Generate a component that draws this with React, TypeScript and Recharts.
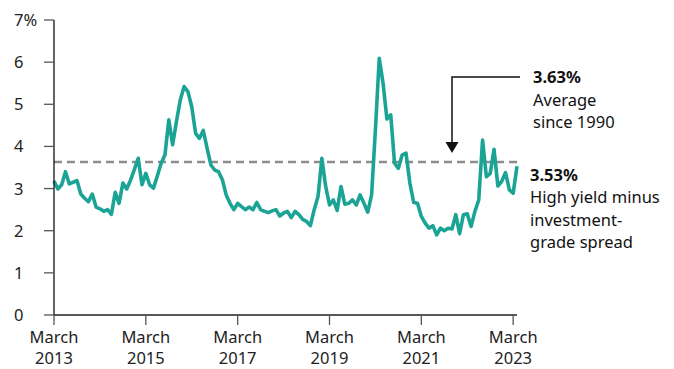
import { LineChart, Line, XAxis, YAxis, ReferenceLine } from "recharts"

// Monthly spread, March 2013 through April 2023 (percent)
const spread = [
  3.18, 2.99, 3.09, 3.4, 3.11, 3.15, 3.19, 2.87, 2.77, 2.69,
  2.87, 2.56, 2.52, 2.46, 2.5, 2.39, 2.91, 2.65, 3.13, 2.99,
  3.2, 3.45, 3.72, 3.09, 3.36, 3.09, 3.01, 3.3, 3.6, 3.8,
  4.63, 4.04, 4.59, 5.1, 5.42, 5.3, 4.94, 4.31, 4.19, 4.38,
  3.96, 3.56, 3.44, 3.4, 3.21, 2.85, 2.65, 2.5, 2.65, 2.57,
  2.5, 2.56, 2.5, 2.67, 2.5, 2.46, 2.43, 2.47, 2.5, 2.35,
  2.42, 2.46, 2.31, 2.46, 2.38, 2.27, 2.22, 2.12, 2.5, 2.81,
  3.72, 3.05, 2.61, 2.73, 2.48, 3.05, 2.63, 2.65, 2.73, 2.61,
  2.85, 2.65, 2.44, 2.85, 4.4, 6.09, 5.5, 4.65, 4.75, 3.6,
  3.48, 3.8, 3.84, 3.13, 2.67, 2.65, 2.34, 2.18, 2.06, 2.12,
  1.9, 2.06, 2.0, 2.06, 2.04, 2.38, 1.93, 2.38, 2.4, 2.1,
  2.46, 2.73, 4.15, 3.28, 3.36, 3.93, 3.06, 3.17, 3.38, 2.97,
  2.89, 3.53,
]

const startYear = 2013
const xTicks = [0, 24, 48, 72, 96, 120]
const yTicks = [0, 1, 2, 3, 4, 5, 6, 7]
const average = 3.63
const latest = spread[spread.length - 1]

const data = spread.map((value, month) => ({ month, value }))

const FONT = "'Noto Sans', 'Open Sans', sans-serif"
const TEAL = "#1ba496"

const YTick = ({ x, y, payload }: any) => (
  <text x={x - 30} y={y} dy={6} textAnchor="start" fontSize={16.5} fill="#222" fontFamily={FONT}>
    {payload.value === 7 ? "7%" : payload.value}
  </text>
)

const XTick = ({ x, y, payload }: any) => (
  <text x={x} y={y} textAnchor="middle" fontSize={16.5} fill="#222" fontFamily={FONT}>
    <tspan x={x} dy={18}>March</tspan>
    <tspan x={x} dy={21}>{startYear + payload.value / 12}</tspan>
  </text>
)

export default function App() {
  return (
    <div style={{ position: "absolute", left: 0, top: 0, width: 674, height: 369, background: "#fff" }}>
      <LineChart width={674} height={369} data={data} margin={{ top: 20, right: 157, bottom: 0, left: 0 }}>
        <XAxis
          dataKey="month"
          type="number"
          domain={[0, spread.length - 1]}
          ticks={xTicks}
          interval={0}
          height={54}
          tickSize={10}
          tickMargin={0}
          axisLine={{ stroke: "#222", strokeWidth: 1.3 }}
          tickLine={{ stroke: "#555", strokeWidth: 1.3 }}
          tick={<XTick />}
        />
        <YAxis
          type="number"
          domain={[0, 7]}
          ticks={yTicks}
          interval={0}
          width={54}
          tickSize={10}
          tickMargin={0}
          axisLine={{ stroke: "#111", strokeWidth: 1.3 }}
          tickLine={{ stroke: "#555", strokeWidth: 1.3 }}
          tick={<YTick />}
        />
        <ReferenceLine y={average} stroke="#8c8c8c" strokeWidth={2.5} strokeDasharray="8 5" ifOverflow="extendDomain" />
        <Line
          type="linear"
          dataKey="value"
          stroke={TEAL}
          strokeWidth={3.6}
          dot={false}
          isAnimationActive={false}
          strokeLinejoin="round"
        />
      </LineChart>
      <svg width={674} height={369} style={{ position: "absolute", left: 0, top: 0, pointerEvents: "none" }}>
        {/* callout arrow down to the average line */}
        <polyline points="520,77 452,77 452,144" fill="none" stroke="#111" strokeWidth={1.5} />
        <polygon points="445.5,142 458.5,142 452,153" fill="#111" />
        <g fontFamily={FONT} fontSize={16.5} fill="#111">
          <text x={533} y={83} fontWeight={700}>{average.toFixed(2)}%</text>
          <text x={533} y={106}>Average</text>
          <text x={533} y={128}>since 1990</text>
          <text x={530} y={181} fontWeight={700}>{latest.toFixed(2)}%</text>
          <text x={530} y={203}>High yield minus</text>
          <text x={530} y={226}>investment-</text>
          <text x={530} y={248}>grade spread</text>
        </g>
      </svg>
    </div>
  )
}
